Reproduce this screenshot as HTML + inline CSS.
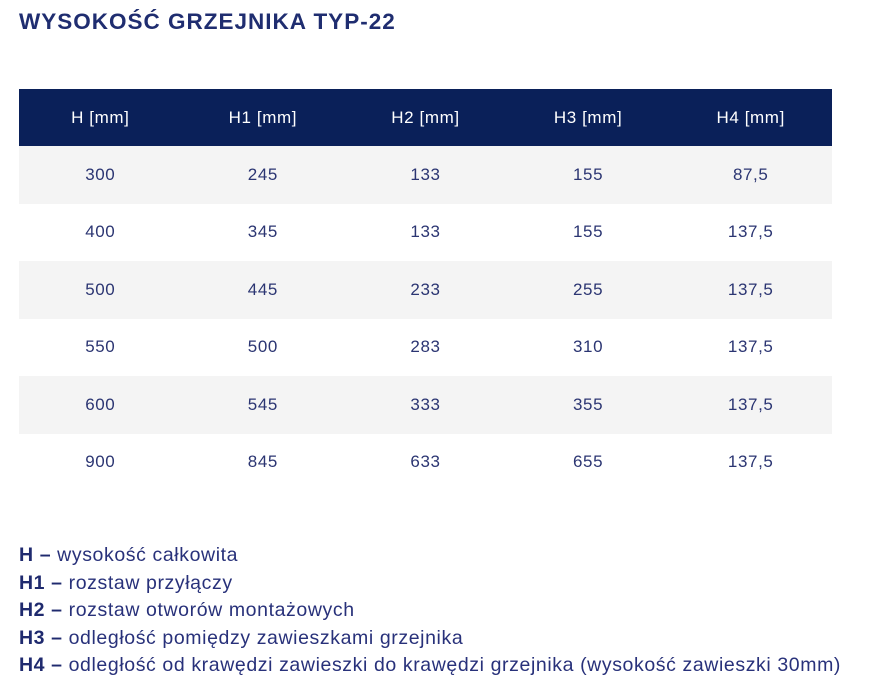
<!DOCTYPE html>
<html><head><meta charset="utf-8"><style>
body{margin:0;width:870px;height:693px;background:#fff;font-family:"Liberation Sans",sans-serif;position:relative;overflow:hidden}
.t{position:absolute;left:19px;top:9px;font-size:22.5px;font-weight:bold;color:#1f2d70;letter-spacing:1px}
table{position:absolute;left:19px;top:89px;width:813px;border-collapse:collapse}
td,th{width:20%;text-align:center;font-size:17px;padding:0;font-weight:normal;letter-spacing:0.6px}
th{height:57px;background:#0a2059;color:#fff}
td{color:#2b3572;height:57.5px}
tr.g td{background:#f4f4f4}
.l{position:absolute;left:19px;top:542px;font-size:19.5px;line-height:27.6px;color:#28317a;letter-spacing:0.6px}
.l b{color:#1f2a6e}
</style></head><body>
<div class="t">WYSOKOŚĆ GRZEJNIKA TYP-22</div>
<table>
<tr><th>H [mm]</th><th>H1 [mm]</th><th>H2 [mm]</th><th>H3 [mm]</th><th>H4 [mm]</th></tr>
<tr class="g"><td>300</td><td>245</td><td>133</td><td>155</td><td>87,5</td></tr>
<tr><td>400</td><td>345</td><td>133</td><td>155</td><td>137,5</td></tr>
<tr class="g"><td>500</td><td>445</td><td>233</td><td>255</td><td>137,5</td></tr>
<tr><td>550</td><td>500</td><td>283</td><td>310</td><td>137,5</td></tr>
<tr class="g"><td>600</td><td>545</td><td>333</td><td>355</td><td>137,5</td></tr>
<tr><td>900</td><td>845</td><td>633</td><td>655</td><td>137,5</td></tr>
</table>
<div class="l">
<b>H –</b> wysokość całkowita<br>
<b>H1 –</b> rozstaw przyłączy<br>
<b>H2 –</b> rozstaw otworów montażowych<br>
<b>H3 –</b> odległość pomiędzy zawieszkami grzejnika<br>
<b>H4 –</b> odległość od krawędzi zawieszki do krawędzi grzejnika (wysokość zawieszki 30mm)
</div>
</body></html>
